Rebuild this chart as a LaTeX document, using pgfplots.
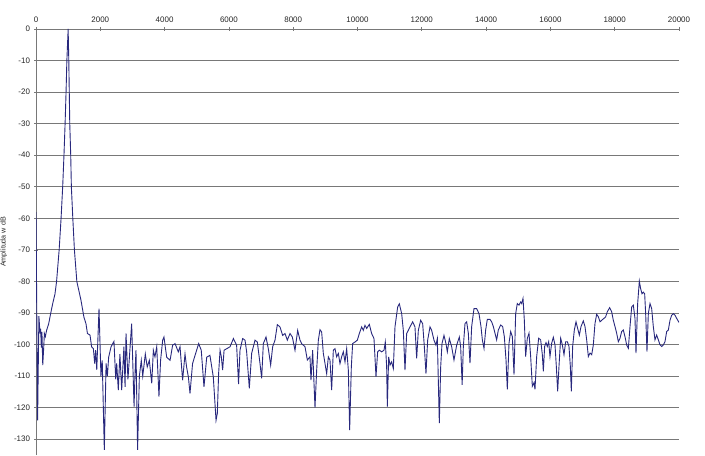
\documentclass[border=0pt]{standalone}
\usepackage{fontspec}
\setmainfont{Liberation Sans}
\usepackage{pgfplots}
\pgfplotsset{compat=1.18}
\definecolor{sig}{RGB}{40,40,125}
\definecolor{gridc}{RGB}{120,120,120}
\begin{document}
\begin{tikzpicture}
\begin{axis}[
  width=643bp, height=426bp, scale only axis,
  xmin=0, xmax=20000, ymin=-135, ymax=0,
  axis x line=top, axis y line=left,
  axis line style={-, draw=gridc, line width=0.9bp},
  xtick={0,2000,4000,6000,8000,10000,12000,14000,16000,18000,20000},
  xticklabels={0,2000,4000,6000,8000,10000,12000,14000,16000,18000,20000},
  ytick={-130,-120,-110,-100,-90,-80,-70,-60,-50,-40,-30,-20,-10,0},
  yticklabels={-130,-120,-110,-100,-90,-80,-70,-60,-50,-40,-30,-20,-10,0},
  scaled ticks=false,
  /pgf/number format/assume math mode=true,
  tick align=center, major tick length=4bp,
  tick style={draw=gridc, line width=0.7bp},
  ymajorgrids=true,
  major grid style={draw=gridc, line width=0.9bp},
  ticklabel style={font=\fontsize{8}{9.5}\selectfont, text=black!85},
  xticklabel style={yshift=0.5bp},
  yticklabel style={xshift=-0.5bp},
  ylabel={Amplituda w dB},
  ylabel style={font=\fontsize{7.2}{8}\selectfont, text=black!85},
  clip=true,
]
\addplot[sig, line width=0.9bp, mark=none] table {
0 -58
25 -91
50 -124
90 -91
125 -96.5
145 -95
165 -101
185 -96
210 -106.5
240 -101
260 -96.5
290 -97.5
330 -95.5
395 -93.4
455 -90.2
520 -87
590 -84
640 -80
720 -70
780 -60
830 -50
870 -40
905 -30
935 -20
960 -10
1000 0
1020 -10
1035 -20
1050 -30
1080 -40
1100 -50
1145 -60
1195 -70
1270 -80
1400 -86
1490 -91.3
1555 -93.4
1600 -96.5
1680 -97
1730 -100.7
1785 -101.3
1825 -106
1855 -101.8
1890 -108
1960 -88.6
2020 -110
2060 -105
2125 -133.4
2180 -106
2220 -110
2260 -104
2335 -100.7
2425 -99
2480 -111
2510 -106
2560 -114.4
2610 -103
2665 -114.4
2735 -100.7
2770 -113.4
2800 -96.5
2860 -111
2975 -93.4
3050 -119.7
3080 -109.2
3110 -101.8
3160 -133.4
3215 -110
3275 -105
3320 -110
3400 -103
3460 -107.1
3525 -105
3600 -112.3
3650 -101.8
3700 -103.9
3755 -100.7
3825 -116.5
3875 -105
3940 -98.6
3980 -97.6
4065 -104
4170 -105
4250 -100.2
4325 -99.7
4425 -102.3
4480 -100.7
4560 -111.3
4635 -103
4685 -107.2
4740 -110.3
4790 -115.5
4870 -106
5060 -99.7
5140 -101.8
5225 -113.4
5310 -104
5410 -103.4
5515 -110.3
5600 -124
5640 -121.8
5680 -109.2
5725 -101.8
5765 -103.9
5805 -108.1
5850 -101.8
6035 -100.7
6140 -98.1
6240 -100.2
6300 -112.5
6345 -101.8
6428 -98.1
6501 -98.6
6552 -102.3
6635 -113.9
6708 -102.8
6812 -98.6
6884 -99.2
6967 -106
7019 -110.7
7071 -99.7
7154 -97.6
7226 -101.3
7299 -106.5
7361 -100.7
7434 -98.6
7506 -93.7
7589 -94.4
7672 -97.1
7745 -96.5
7817 -98.6
7900 -96.5
7973 -97.6
8056 -101.8
8139 -95.5
8211 -98.6
8263 -99.7
8367 -100.7
8440 -104.9
8522 -103.9
8553 -111.3
8605 -101.8
8678 -120
8730 -108.1
8782 -98.6
8833 -95.3
8885 -96
8937 -102.8
8989 -106
9041 -109.2
9093 -103.9
9144 -104.9
9196 -114.4
9248 -101.8
9300 -101.3
9352 -103.9
9404 -102.8
9455 -106
9507 -103.9
9559 -102.3
9611 -105.5
9663 -101.3
9715 -108.1
9756 -127.1
9808 -107.1
9849 -99.7
9922 -99.2
9995 -98.6
10057 -96.5
10130 -94.4
10181 -95.5
10233 -93.9
10285 -94.9
10368 -93.6
10440 -96.5
10513 -98.1
10575 -110.2
10627 -102.3
10679 -101.8
10751 -102.3
10824 -101.8
10865 -99.2
10907 -107.1
10928 -119.7
10969 -103.9
11011 -106.5
11062 -105.5
11114 -107.6
11166 -94.4
11249 -88.1
11301 -87.1
11374 -90.2
11425 -95.5
11477 -108.1
11529 -96.5
11581 -95.5
11633 -94.4
11716 -92.8
11788 -94.4
11840 -104.4
11892 -95.5
11965 -92.3
12027 -93.4
12079 -100.7
12130 -109.2
12182 -98.6
12255 -94.4
12307 -95.5
12379 -98.6
12441 -100.2
12483 -98.1
12545 -124.9
12587 -107.1
12628 -99.7
12690 -97.1
12752 -99.7
12794 -102.3
12856 -98.1
12929 -100.7
13001 -104.9
13084 -100.2
13167 -97.6
13209 -100.7
13255 -112.8
13292 -100.6
13344 -93.3
13395 -92.8
13447 -96.4
13499 -105.9
13551 -94.3
13623 -88.6
13706 -88.6
13779 -90.2
13841 -94.3
13883 -98.5
13935 -101.2
13986 -95.4
14038 -92
14121 -92
14173 -92.8
14225 -94.3
14277 -96.4
14328 -98.5
14380 -95.4
14453 -93.8
14515 -94.3
14567 -97.5
14619 -104.8
14660 -114.2
14712 -99.6
14764 -95.9
14816 -97.5
14868 -109.5
14919 -90.2
14971 -87
15023 -87.5
15075 -86.5
15106 -87
15148 -85.4
15189 -92.3
15230 -103.8
15282 -98
15334 -96.4
15386 -103.8
15438 -113.2
15490 -112.1
15521 -114.2
15573 -103.8
15635 -98
15697 -98.5
15749 -103.2
15780 -108.5
15821 -100.6
15863 -99.4
15904 -100.6
15946 -99.1
15987 -103.8
16039 -99.6
16091 -97.7
16143 -100.1
16184 -106.9
16226 -114.8
16267 -106.9
16319 -98
16371 -100.1
16423 -103.2
16475 -99.1
16527 -99.1
16578 -100.6
16620 -106.9
16651 -114.8
16692 -100.6
16744 -95.4
16796 -92.8
16848 -94.9
16900 -97
16952 -94.3
17024 -92.5
17076 -94.3
17128 -98.5
17180 -103.8
17232 -102.7
17284 -103.2
17335 -100.1
17387 -93.3
17439 -90.4
17491 -91.2
17543 -92.8
17594 -92.3
17667 -91.7
17719 -91.2
17771 -89.6
17843 -88.3
17905 -89.6
17957 -92.3
18009 -94.3
18061 -96.4
18113 -99.1
18165 -98
18217 -95.9
18268 -95.4
18320 -97.5
18372 -100.1
18424 -101.2
18476 -94.3
18528 -88.1
18579 -87.5
18631 -91.7
18662 -102.7
18714 -87
18766 -79.9
18807 -82.3
18849 -83.9
18890 -83.4
18932 -83.9
18963 -90.2
19004 -102.2
19046 -90.2
19098 -87
19150 -88.6
19201 -94.3
19253 -98.5
19305 -97
19357 -98.5
19409 -100.1
19461 -100.6
19512 -100.1
19564 -99.1
19616 -95.9
19668 -95.4
19720 -92.3
19772 -90.7
19824 -90.2
19876 -90.7
19927 -91.7
20000 -93
};
\end{axis}
\pgfresetboundingbox
\path ([xshift=-36bp,yshift=-1bp]current axis.south west) rectangle ([xshift=26bp,yshift=29bp]current axis.north east);
\end{tikzpicture}
\end{document}
